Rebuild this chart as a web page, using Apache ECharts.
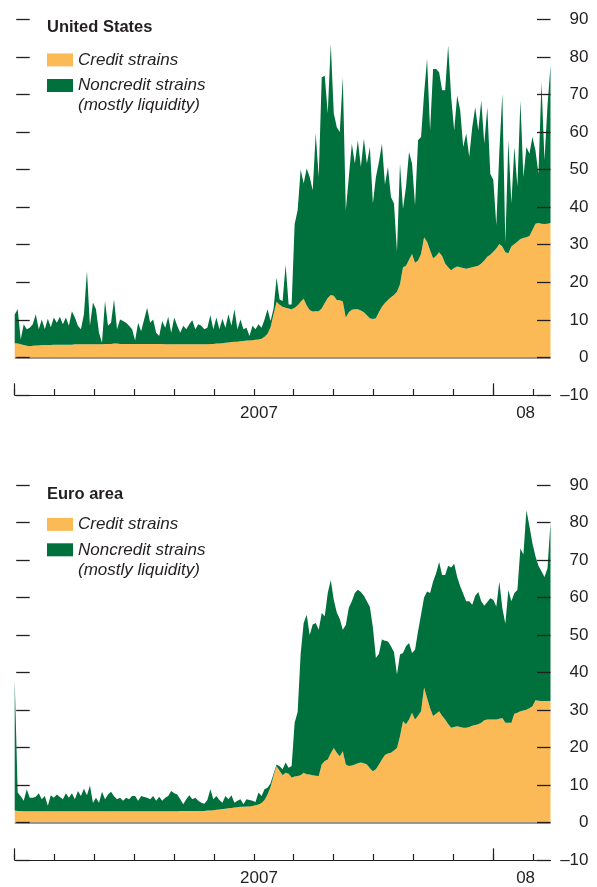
<!DOCTYPE html>
<html>
<head>
<meta charset="utf-8">
<script src="https://cdn.jsdelivr.net/npm/echarts@6/dist/echarts.min.js"></script>
<style>
html,body{margin:0;padding:0;background:#ffffff;}
#chart{width:597px;height:887px;}
</style>
</head>
<body>
<div id="chart"></div>
<script>
// ---- Data (percentage points), sampled evenly from early Jan 2007 to mid-Feb 2008 ----
const usCredit = [
  3.8,3.7,3.5,3.3,3.1,3.0,3.1,3.2,3.2,3.3,
  3.3,3.3,3.3,3.4,3.4,3.4,3.4,3.4,3.4,3.4,
  3.5,3.5,3.5,3.5,3.5,3.5,3.5,3.5,3.5,3.5,
  3.6,3.6,3.6,3.7,3.7,3.6,3.6,3.6,3.6,3.6,
  3.6,3.6,3.6,3.6,3.6,3.6,3.6,3.6,3.6,3.6,
  3.5,3.5,3.5,3.5,3.5,3.5,3.5,3.5,3.5,3.5,
  3.5,3.5,3.5,3.5,3.5,3.6,3.6,3.7,3.7,3.8,
  3.9,4.0,4.1,4.2,4.2,4.3,4.4,4.5,4.5,4.6,
  4.7,4.8,5.0,5.5,6.3,8.0,11.5,14.8,14.0,13.5,
  13.2,13.0,12.8,13.2,13.8,14.8,15.6,13.8,12.6,12.2,
  12.3,12.3,13.0,14.5,15.8,16.6,16.4,15.3,15.2,14.9,
  10.6,12.0,12.7,12.8,12.8,12.5,12.0,11.2,10.4,10.2,
  10.4,12.0,13.5,14.5,15.3,16.0,16.6,17.5,19.5,24.0,
  24.4,26.0,27.5,25.2,25.8,27.5,32.0,30.8,28.5,26.4,
  27.0,28.0,27.0,25.0,24.0,23.2,23.8,24.2,24.0,23.8,
  23.6,23.8,24.0,24.2,24.4,25.0,25.8,26.8,27.3,28.1,
  29.0,30.2,29.5,28.0,27.7,29.5,30.2,30.8,31.5,31.8,
  32.0,32.3,33.9,35.6,35.8,35.6,35.5,35.6,35.8
];
const usNoncredit = [
  7.6,9.1,1.3,5.5,4.4,4.9,5.7,8.3,4.3,6.8,
  4.2,7.0,4.7,7.2,5.8,7.4,5.4,7.2,5.0,8.9,
  7.1,4.9,4.0,8.0,19.5,4.9,11.1,9.3,3.1,0.4,
  11.4,4.8,5.6,11.7,3.8,6.5,6.1,5.6,4.8,3.9,
  0.9,5.6,3.4,6.5,9.6,5.6,6.5,3.0,2.1,6.1,
  4.4,7.3,3.1,7.1,4.9,3.1,4.9,4.0,5.3,6.4,
  4.0,5.3,4.9,4.0,4.4,7.6,3.9,6.9,3.8,6.5,
  4.0,7.5,4.3,8.6,3.3,5.8,3.1,3.4,1.2,3.8,
  2.8,4.0,2.9,4.6,6.5,1.7,1.5,6.4,1.4,1.5,
  11.5,1.1,1.3,22.3,25.4,35.2,30.7,36.5,35.4,32.3,
  47.3,35.7,61.6,60.5,49.2,66.9,48.6,46.0,44.8,59.7,
  28.6,36.0,44.2,38.8,45.0,38.2,46.2,40.4,45.6,30.8,
  37.6,40.0,43.4,31.5,35.4,26.7,24.4,10.6,32.1,15.6,
  21.0,28.7,24.1,15.3,32.0,31.2,38.2,48.7,31.9,50.4,
  49.8,47.9,44.1,46.1,59.0,46.1,36.6,45.5,41.8,32.2,
  36.0,29.6,37.3,42.4,36.0,43.4,31.1,39.8,21.6,19.1,
  6.2,24.5,40.7,2.4,30.1,11.5,25.8,14.6,36.9,16.2,
  24.0,21.9,24.8,19.5,13.1,37.7,17.0,31.4,41.9
];
const euCredit = [
  3.2,3.1,3.1,3.0,3.0,3.0,3.0,3.0,3.0,3.0,
  3.0,3.0,3.0,3.0,3.0,3.0,3.0,3.0,3.0,3.0,
  3.0,3.0,3.0,3.0,3.0,3.0,3.0,3.0,3.0,3.0,
  3.0,3.0,3.0,3.0,3.0,3.0,3.0,3.0,3.0,3.0,
  3.0,3.0,3.0,3.0,3.0,3.0,3.0,3.0,3.0,3.0,
  3.0,3.0,3.0,3.0,3.0,3.1,3.1,3.1,3.1,3.1,
  3.1,3.1,3.1,3.1,3.2,3.2,3.3,3.4,3.5,3.6,
  3.7,3.8,3.9,4.0,4.1,4.2,4.2,4.3,4.3,4.4,
  4.6,4.8,5.2,6.0,7.5,9.5,12.5,15.0,13.8,12.6,
  13.3,13.0,12.0,12.3,12.4,12.6,13.3,12.9,12.8,12.6,
  12.5,12.4,15.5,16.4,16.8,18.5,19.9,18.6,17.7,19.0,
  15.5,15.1,15.2,15.5,15.8,16.0,15.8,15.5,14.5,13.7,
  14.2,15.5,16.8,18.0,18.4,18.6,19.2,19.9,23.0,27.0,
  26.2,27.5,29.3,27.5,28.5,29.7,36.0,33.2,30.5,28.4,
  29.0,29.7,28.5,27.5,26.3,25.3,25.5,25.7,25.5,25.3,
  25.3,25.5,25.8,26.0,26.2,26.6,27.3,27.5,27.5,27.5,
  27.5,27.7,27.9,26.6,26.6,26.6,29.0,29.3,29.7,29.9,
  30.1,30.5,31.0,32.6,32.5,32.4,32.4,32.4,32.4
];
const euNoncredit = [
  34.8,4.9,3.9,2.8,5.9,3.6,3.6,3.9,4.8,3.2,
  4.1,1.5,4.3,3.6,4.5,3.8,3.2,4.8,3.6,4.8,
  3.2,5.4,4.1,6.0,4.3,6.9,2.3,3.6,2.3,5.2,
  3.2,4.5,5.2,4.0,3.2,3.6,2.8,3.6,3.2,4.1,
  4.1,2.8,4.1,3.8,3.6,3.2,4.1,2.8,3.9,2.8,
  3.6,4.1,5.4,4.8,4.5,3.1,1.8,3.1,4.2,3.1,
  3.5,2.7,2.2,1.9,2.8,5.7,2.9,3.7,2.5,1.7,
  3.4,2.4,3.4,1.3,1.7,2.0,0.7,1.9,1.7,1.4,
  0.9,3.2,1.9,2.9,1.8,1.0,0.5,0.5,1.2,1.6,
  2.7,1.6,3.1,14.3,17.1,32.4,39.9,42.5,37.2,40.2,
  40.7,39.0,40.4,38.6,44.4,46.2,39.5,37.4,36.6,32.4,
  37.2,42.2,43.8,45.7,46.3,45.5,44.7,43.5,43.0,38.3,
  29.7,29.5,32.0,30.5,29.9,28.4,26.3,19.6,21.8,18.2,
  20.8,20.4,15.9,18.6,22.5,25.8,24.0,28.4,30.7,35.9,
  37.5,39.8,37.5,38.5,42.2,42.7,43.5,39.8,37.5,35.7,
  33.7,33.5,32.3,34.5,35.3,32.4,30.5,31.3,32.3,31.9,
  30.1,36.6,29.3,26.4,35.4,32.4,32.2,32.7,43.4,41.6,
  53.2,48.5,43.5,38.4,36.0,34.6,33.1,35.4,47.6
];

// ---- Axis ticks / labels ----
const yMin = -10, yMax = 90, yStep = 10;
const monthTicks = [0,1,2,3,4,5,6,7,8,9,10,11,12,13]; // month boundaries, 0 = 1 Jan 2007
const yearTicks = [0, 12];
const xLabelValues = [6.13, 12.82];
const xLabelTexts = ['2007', '08'];
const panelTitles = ['United States', 'Euro area'];
const seriesNames = ['Credit strains', 'Noncredit strains'];
const legendSecondLine = '(mostly liquidity)';

// evenly spaced observation dates (as month offsets from 1 Jan 2007)
const sampleStart = 0.033, sampleStep = 0.07528;
const xMaxMonths = 13.445;
const sampleDates = usCredit.map((_, i) => {
  const m = sampleStart + i * sampleStep;
  const d = new Date(Date.UTC(2007, 0, 1) + m * 30.44 * 86400000);
  return d.toISOString().slice(0, 10);
});

// ---- Styles ----
const FONT = "'Liberation Sans Narrow','Arial Narrow','Liberation Sans',Arial,sans-serif";
const INK = '#231f20';
const ORANGE = '#fcba56';
const GREEN = '#00703c';

const panels = [
  { credit: usCredit, noncredit: usNoncredit, top: 19.3, titleTop: 19, legendTops: [49.9, 55.5] },
  { credit: euCredit, noncredit: euNoncredit, top: 485, titleTop: 486, legendTops: [514.4, 519.8] }
];
const GRID_H = 375.7;

function yFmt(v) { return v < 0 ? '\u2013' + Math.abs(v) : String(v); }
function xFmt(v) {
  const k = xLabelValues.findIndex(p => Math.abs(p - v) < 1e-6);
  return k >= 0 ? xLabelTexts[k] : '';
}

const grid = [], xAxis = [], yAxis = [], series = [], title = [], legend = [];
const legendText = { fontFamily: FONT, fontStyle: 'italic', fontSize: 17, lineHeight: 20, color: INK };

panels.forEach((p, g) => {
  grid.push({ left: 14.7, right: 46.5, top: p.top, height: GRID_H, containLabel: false });

  // data axis (hidden)
  xAxis.push({ gridIndex: g, type: 'category', data: sampleDates, boundaryGap: false, show: false });
  // month ticks + year labels
  xAxis.push({
    gridIndex: g, type: 'value', min: 0, max: xMaxMonths, position: 'bottom', z: 10,
    axisLine: { show: true, onZero: false, lineStyle: { color: INK, width: 1.2 } },
    axisTick: { show: true, inside: true, length: 6, customValues: monthTicks, lineStyle: { color: INK, width: 1.2 } },
    axisLabel: { show: true, customValues: xLabelValues, formatter: xFmt, margin: 10,
      fontFamily: FONT, fontSize: 17, lineHeight: 17, color: INK },
    splitLine: { show: false }
  });
  // taller year ticks
  xAxis.push({
    gridIndex: g, type: 'value', min: 0, max: xMaxMonths, position: 'bottom', z: 10,
    axisLine: { show: false, onZero: false },
    axisTick: { show: true, inside: true, length: 11.7, customValues: yearTicks, lineStyle: { color: INK, width: 1.2 } },
    axisLabel: { show: false },
    splitLine: { show: false }
  });

  yAxis.push({
    gridIndex: g, type: 'value', position: 'right', min: yMin, max: yMax, interval: yStep, z: 10,
    axisLine: { show: false, onZero: false }, splitLine: { show: false },
    axisTick: { show: true, inside: true, length: 13.5, lineStyle: { color: INK, width: 1.3 } },
    axisLabel: { show: true, margin: 38, align: 'right', formatter: yFmt,
      fontFamily: FONT, fontSize: 17, color: INK }
  });
  yAxis.push({
    gridIndex: g, type: 'value', position: 'left', offset: -1.5, min: yMin, max: yMax, interval: yStep, z: 10,
    axisLine: { show: false, onZero: false }, splitLine: { show: false },
    axisTick: { show: true, inside: true, length: 13.5, lineStyle: { color: INK, width: 1.3 } },
    axisLabel: { show: false }
  });

  const common = {
    type: 'line', xAxisIndex: 3 * g, yAxisIndex: 2 * g, stack: 'panel' + g,
    showSymbol: false, symbol: 'none', smooth: false,
    lineStyle: { width: 0, opacity: 0 }, emphasis: { disabled: true }, silent: true
  };
  series.push(Object.assign({}, common, {
    name: seriesNames[0], data: p.credit, color: ORANGE, itemStyle: { color: ORANGE },
    areaStyle: { color: ORANGE, opacity: 1 }, z: 2,
    markLine: { silent: true, symbol: ['none', 'none'], label: { show: false }, animation: false,
      lineStyle: { color: '#7a7a7a', width: 1.5, type: 'solid' }, data: [{ yAxis: 0 }] }
  }));
  series.push(Object.assign({}, common, {
    name: seriesNames[1], data: p.noncredit, color: GREEN, itemStyle: { color: GREEN },
    areaStyle: { color: GREEN, opacity: 1 }, z: 3
  }));

  title.push({
    text: panelTitles[g], left: 47, top: p.titleTop, padding: 0,
    textStyle: { fontFamily: FONT, fontWeight: 'bold', fontSize: 16.5, lineHeight: 17, color: INK }
  });

  legend.push({
    orient: 'vertical', left: 47, top: p.legendTops[0], padding: 0,
    itemWidth: 26, itemHeight: 13, icon: 'rect', selectedMode: false,
    textStyle: legendText, data: [seriesNames[0]]
  });
  legend.push({
    orient: 'vertical', left: 47, top: p.legendTops[1], padding: 0,
    itemWidth: 26, itemHeight: 13, icon: 'rect', selectedMode: false,
    textStyle: legendText, data: [seriesNames[1]],
    // blank first line keeps the swatch level with "Noncredit strains"
    formatter: n => '\n' + n + '\n' + legendSecondLine
  });
});

const chart = echarts.init(document.getElementById('chart'), null, { renderer: 'canvas' });
chart.setOption({
  animation: false,
  backgroundColor: '#ffffff',
  title, legend, grid, xAxis, yAxis, series
});
</script>
</body>
</html>
